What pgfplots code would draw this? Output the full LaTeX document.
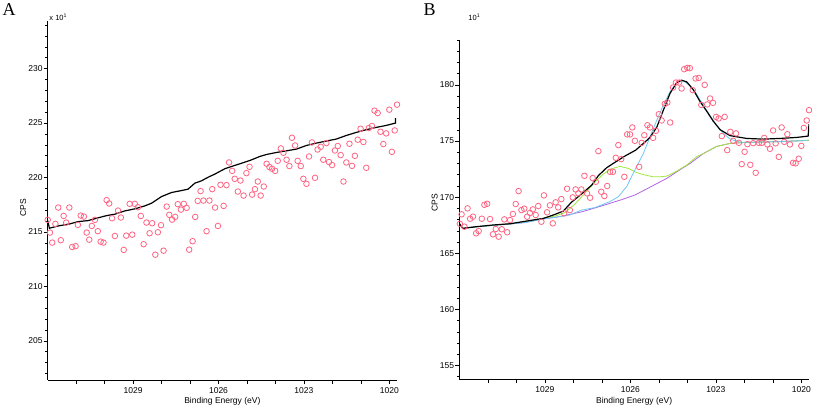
\documentclass[border=0pt]{standalone}
\usepackage{fontspec}
\setmainfont{Liberation Sans}
\newfontfamily\panelfont{Liberation Serif}
\usepackage{pgfplots}
\pgfplotsset{compat=1.18}

\definecolor{datapink}{RGB}{255,100,130}
\definecolor{fitcyan}{RGB}{110,200,240}
\definecolor{fitgreen}{RGB}{160,230,60}
\definecolor{fitpurple}{RGB}{175,100,230}

\pgfplotsset{
  xps/.style={
    scale only axis,
    anchor=south west,
    clip mode=individual,
    x dir=reverse,
    xmin=1019.73, xmax=1032,
    axis lines=left,
    axis line style={-, line width=0.8pt},
    tick align=outside,
    tick pos=left,
    xtick={1020,...,1031},
    xticklabels={1020,,,1023,,,1026,,,1029,,},
    major tick length=4pt,
    minor tick length=2.5pt,
    tick style={black, line width=0.6pt},
    ticklabel style={font=\fontsize{8.5}{10}\selectfont},
    yticklabel style={inner sep=1pt},
    /pgf/number format/assume math mode=true,
    xlabel={Binding Energy (eV)},
    ylabel={CPS},
    label style={font=\fontsize{8.5}{10}\selectfont},
  },
  pts/.style={datapink, draw=datapink, only marks, mark=o, mark size=2.8pt,
    mark options={draw=datapink, fill=none, line width=0.8pt}},
  env/.style={black, line width=1.2pt, no marks},
}

\begin{document}
\begin{tikzpicture}
\useasboundingbox (0,0) rectangle (813pt,408pt);

\node[font=\panelfont\fontsize{18}{20}\selectfont] at (9pt,398pt) {A};
\node[font=\panelfont\fontsize{18}{20}\selectfont] at (429.7pt,398pt) {B};

% ---------------- panel A
\begin{axis}[xps,
  at={(47.7pt,28pt)}, width=349.3pt, height=359.3pt,
  ymin=201.4, ymax=234.4,
  ytick={205,210,...,230},
  minor ytick={202,...,234},
  xlabel style={at={(axis description cs:0.5,-0.058)}, anchor=center},
  ylabel style={at={(axis description cs:-0.07,0.48)}, anchor=center},
]
\addplot[env] table {
1032.00 216.04
1031.94 215.34
1031.63 215.55
1031.22 215.74
1030.93 215.95
1030.58 216.04
1030.28 216.26
1029.93 216.50
1029.64 216.63
1029.29 216.93
1028.94 217.12
1028.59 217.39
1028.35 217.64
1028.00 218.25
1027.65 218.62
1027.30 218.80
1027.07 218.93
1026.83 219.48
1026.60 219.69
1026.36 220.03
1026.13 220.31
1025.78 220.80
1025.60 220.96
1025.25 221.26
1024.90 221.56
1024.55 221.93
1024.32 222.11
1023.96 222.30
1023.61 222.45
1023.26 222.61
1022.91 222.94
1022.56 223.16
1022.21 223.35
1021.86 223.53
1021.51 223.86
1021.16 224.14
1020.81 224.39
1020.46 224.60
1020.11 224.78
1019.78 225.00
1019.78 225.46
};
\addplot[pts] table {
1032.00 216.11
1031.92 214.94
1031.84 214.02
1031.73 215.74
1031.63 217.24
1031.54 214.24
1031.44 216.47
1031.35 215.86
1031.24 217.24
1031.14 213.62
1031.02 213.69
1030.94 215.65
1030.84 216.50
1030.73 216.41
1030.63 214.94
1030.54 214.29
1030.45 215.55
1030.34 216.11
1030.24 215.07
1030.14 214.11
1030.04 214.02
1029.93 217.92
1029.84 217.61
1029.74 216.26
1029.64 214.63
1029.53 216.96
1029.43 216.32
1029.33 213.35
1029.24 214.66
1029.12 217.58
1029.03 214.75
1028.94 217.58
1028.83 217.27
1028.73 216.47
1028.63 213.87
1028.53 215.86
1028.42 214.88
1028.33 215.80
1028.22 212.91
1028.13 214.97
1028.02 215.62
1027.93 213.28
1027.82 217.33
1027.73 216.57
1027.63 216.13
1027.52 216.38
1027.43 217.55
1027.32 217.05
1027.22 217.58
1027.12 217.21
1027.03 213.37
1026.91 214.15
1026.82 216.38
1026.73 217.85
1026.63 218.75
1026.53 217.88
1026.42 215.07
1026.32 217.88
1026.22 218.93
1026.12 217.24
1026.02 215.55
1025.93 219.33
1025.82 217.39
1025.72 219.30
1025.63 221.38
1025.52 220.61
1025.43 219.88
1025.32 218.71
1025.23 219.72
1025.12 218.34
1025.02 220.40
1024.91 220.98
1024.82 218.43
1024.72 218.93
1024.62 219.63
1024.52 218.34
1024.41 219.17
1024.31 221.26
1024.21 220.96
1024.12 220.80
1024.01 220.61
1023.92 221.53
1023.81 222.67
1023.72 222.27
1023.61 221.63
1023.51 221.05
1023.42 223.65
1023.31 222.94
1023.22 221.53
1023.11 221.05
1023.02 219.88
1022.91 219.42
1022.82 221.93
1022.72 223.22
1022.61 219.97
1022.52 222.57
1022.41 222.82
1022.32 221.63
1022.21 223.16
1022.12 221.42
1022.01 221.14
1021.91 222.48
1021.81 222.89
1021.71 222.06
1021.61 219.63
1021.51 221.38
1021.40 223.10
1021.31 221.07
1021.21 221.99
1021.11 223.47
1021.01 224.48
1020.91 223.26
1020.81 220.89
1020.72 224.54
1020.61 224.73
1020.52 226.14
1020.41 225.92
1020.31 224.20
1020.21 223.07
1020.11 224.05
1020.00 226.23
1019.91 222.36
1019.81 224.32
1019.73 226.69
};
\node[anchor=west, font=\fontsize{7.5}{9}\selectfont] at (axis description cs:-0.005,1.01) {x 10\textsuperscript{1}};
\end{axis}

% ---------------- panel B
\begin{axis}[xps,
  at={(459.3pt,29pt)}, width=349.7pt, height=339pt,
  ymin=153.8, ymax=184,
  ytick={155,160,...,180},
  minor ytick={154,...,184},
  xlabel style={at={(axis description cs:0.5,-0.065)}, anchor=center},
  ylabel style={at={(axis description cs:-0.07,0.52)}, anchor=center},
]
% background
\addplot[fitpurple, line width=0.8pt, no marks] table {
1031.88 167.22
1031.39 167.37
1030.81 167.49
1030.22 167.61
1029.69 167.74
1029.17 168.01
1028.47 168.27
1027.66 168.72
1026.90 169.30
1026.29 169.79
1025.84 170.19
1025.42 170.74
1025.07 171.21
1024.72 171.67
1024.37 172.26
1023.90 173.01
1023.44 173.88
1022.97 174.52
1022.50 174.79
1021.92 174.88
1020.75 174.95
1019.81 175.05
1019.73 175.08
};
% first component
\addplot[fitgreen, line width=0.8pt, no marks] table {
1031.88 167.22
1031.39 167.37
1030.81 167.50
1030.22 167.62
1029.64 167.86
1029.05 168.10
1028.64 168.32
1028.29 168.63
1027.94 169.39
1027.59 170.36
1027.24 171.34
1026.95 172.06
1026.65 172.54
1026.36 172.74
1026.07 172.56
1025.78 172.19
1025.48 171.97
1025.19 171.81
1024.96 171.81
1024.72 171.88
1024.37 172.32
1024.02 172.86
1023.67 173.61
1023.44 173.88
1022.97 174.52
1022.50 174.79
1021.92 174.88
1020.75 174.95
1019.81 175.05
1019.73 175.08
};
% second component
\addplot[fitcyan, line width=0.8pt, no marks] table {
1031.88 167.22
1031.39 167.37
1030.81 167.49
1030.22 167.61
1029.69 167.74
1029.17 168.01
1028.82 168.14
1028.12 168.41
1027.71 168.85
1027.24 169.07
1026.71 169.61
1026.42 170.04
1026.13 170.93
1025.78 172.72
1025.54 173.90
1025.31 175.37
1025.07 176.86
1024.84 178.19
1024.61 179.38
1024.37 180.20
1024.26 180.37
1024.12 180.33
1023.91 179.93
1023.67 179.17
1023.44 178.19
1023.20 177.26
1022.97 176.41
1022.74 175.70
1022.50 175.17
1022.15 174.90
1021.92 174.88
1020.75 174.95
1019.81 175.05
};
% envelope
\addplot[env] table {
1032.00 167.67
1031.88 167.22
1031.39 167.37
1030.81 167.52
1030.22 167.63
1029.64 167.87
1029.05 168.11
1028.70 168.41
1028.35 168.76
1028.06 169.56
1027.71 170.28
1027.35 171.08
1027.12 171.92
1026.83 172.62
1026.54 173.10
1026.19 173.66
1025.81 174.19
1025.49 174.90
1025.31 175.32
1025.07 176.24
1024.84 177.75
1024.61 179.23
1024.37 180.21
1024.20 180.42
1024.02 180.27
1023.79 179.57
1023.56 178.55
1023.32 177.66
1023.09 176.77
1022.85 176.01
1022.50 175.48
1021.92 175.23
1021.33 175.17
1020.75 175.23
1020.16 175.32
1019.76 175.44
1019.73 176.50
};
\addplot[pts] table {
1031.98 167.63
1031.92 168.47
1031.82 167.37
1031.71 169.00
1031.62 168.08
1031.52 168.26
1031.41 166.78
1031.32 166.98
1031.21 168.08
1031.12 169.32
1031.02 169.41
1030.92 168.05
1030.82 166.69
1030.72 167.16
1030.62 166.48
1030.51 167.14
1030.42 168.02
1030.32 166.87
1030.22 167.96
1030.12 168.50
1030.02 169.39
1029.92 170.54
1029.82 168.85
1029.72 168.97
1029.62 168.26
1029.52 168.59
1029.42 168.91
1029.32 168.41
1029.23 169.21
1029.12 167.81
1029.03 170.16
1028.92 168.65
1028.82 169.27
1028.72 167.67
1028.62 169.54
1028.53 169.09
1028.42 169.83
1028.32 168.56
1028.22 170.75
1028.12 168.85
1028.02 169.98
1027.92 170.69
1027.82 170.34
1027.72 170.69
1027.61 171.90
1027.52 170.34
1027.41 169.95
1027.32 171.70
1027.21 171.37
1027.12 174.10
1027.02 170.48
1026.91 170.10
1026.81 170.99
1026.71 172.26
1026.61 172.26
1026.51 173.51
1026.42 174.64
1026.32 173.39
1026.21 171.81
1026.11 175.59
1026.01 175.59
1025.93 176.21
1025.84 175.02
1025.69 172.70
1025.60 174.84
1025.51 175.52
1025.40 176.41
1025.31 176.21
1025.20 175.28
1025.10 175.91
1025.00 177.39
1024.90 176.83
1024.79 178.31
1024.70 178.43
1024.60 176.65
1024.50 179.77
1024.40 180.21
1024.29 180.21
1024.20 179.68
1024.11 181.40
1024.00 181.51
1023.91 181.49
1023.81 179.53
1023.71 180.57
1023.60 180.62
1023.51 178.22
1023.39 180.00
1023.30 178.26
1023.20 178.79
1023.10 178.40
1022.99 177.15
1022.90 177.01
1022.79 175.44
1022.69 177.15
1022.60 174.19
1022.49 175.82
1022.39 175.02
1022.29 175.68
1022.19 174.84
1022.09 172.94
1021.99 174.04
1021.89 174.72
1021.79 172.88
1021.69 174.81
1021.60 172.17
1021.49 174.84
1021.39 174.84
1021.30 175.28
1021.19 174.70
1021.10 174.31
1020.99 175.94
1020.90 174.79
1020.79 173.59
1020.69 176.21
1020.60 174.93
1020.49 175.61
1020.40 174.70
1020.29 173.06
1020.20 173.01
1020.09 173.42
1020.00 174.57
1019.91 176.17
1019.81 176.83
1019.73 177.75
};
\node[anchor=west, font=\fontsize{7.5}{9}\selectfont] at (axis description cs:0.016,1.068) {10\textsuperscript{1}};
\end{axis}
\end{tikzpicture}
\end{document}
